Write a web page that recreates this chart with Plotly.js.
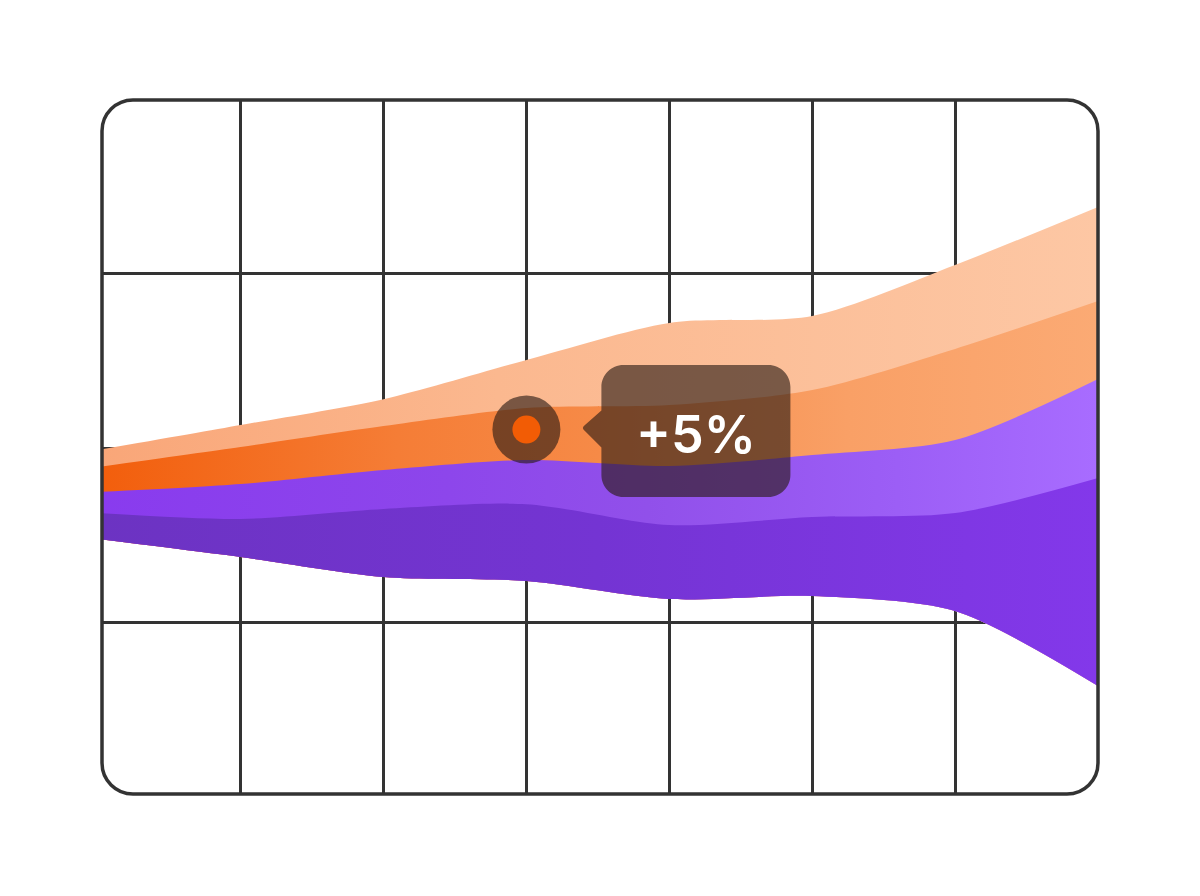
<!DOCTYPE html>
<html>
<head>
<meta charset="utf-8">
<script src="https://cdn.plot.ly/plotly-3.0.1.min.js"></script>
<style>
  html, body { margin: 0; padding: 0; background: #ffffff; }
  #chart { width: 1200px; height: 896px; }
</style>
</head>
<body>
<div id="chart"></div>
<script>
// ---- data ----
const periods    = [0, 1, 2, 3, 4, 5, 6, 7];
const baseline   = [14.79, 13.76, 12.62, 12.39, 11.36, 11.53, 10.67, 6.38];
const deepViolet = [16.28, 15.94, 16.51, 16.79, 15.59, 16.05, 16.28, 18.28];
const violet     = [17.48, 17.94, 18.74, 19.31, 18.97, 19.60, 20.46, 23.95];
const orange     = [18.91, 20.06, 21.26, 22.29, 22.46, 23.32, 25.67, 28.41];
const peach      = [19.89, 21.32, 22.80, 25.04, 27.16, 27.56, 30.48, 33.80];
const highlight  = { x: 3, y: 21.06, label: '+5%' };
const gridX = [1, 2, 3, 4, 5, 6];
const gridY = [10, 20, 30];

const lineStyle = { width: 0, shape: 'spline', smoothing: 0.8 };

function base() {
  return { x: periods, y: baseline, type: 'scatter', mode: 'lines',
           line: lineStyle, hoverinfo: 'skip', showlegend: false };
}
function band(top, scale) {
  return { x: periods, y: top, type: 'scatter', mode: 'lines', fill: 'tonexty',
           line: lineStyle, hoverinfo: 'skip', showlegend: false,
           fillgradient: { type: 'horizontal', colorscale: scale } };
}

const shadow = 'rgba(40,26,20,0.62)';

const traces = [
  base(),
  band(peach, [[0, '#f9a678'], [0.4, '#fbb88f'], [1, '#fdc7a4']]),
  base(),
  band(orange, [[0, '#f25e0c'], [0.3, '#f57d36'], [0.5, '#f68a47'], [0.75, '#f9a066'], [1, '#fbaa74']]),
  base(),
  band(violet, [[0, '#893bee'], [0.35, '#8d46eb'], [0.55, '#9150ea'], [0.8, '#9c5ef6'], [1, '#a86cff']]),
  base(),
  band(deepViolet, [[0, '#6c33c2'], [0.5, '#7434d3'], [1, '#8338ea']]),
  { x: [highlight.x], y: [highlight.y], type: 'scatter', mode: 'markers',
    marker: { size: 68, color: shadow, line: { width: 0 } }, hoverinfo: 'skip', showlegend: false },
  { x: [highlight.x], y: [highlight.y], type: 'scatter', mode: 'markers',
    marker: { size: 28, color: '#f25c05', line: { width: 0 } }, hoverinfo: 'skip', showlegend: false }
];

// rounded frame, in pixels relative to the plot's bottom-left corner
const W = 996, H = 694, R = 31, K = R * 0.5523;
const framePath =
  `M ${R},0 H ${W - R} C ${W - R + K},0 ${W},${R - K} ${W},${R} ` +
  `V ${H - R} C ${W},${H - R + K} ${W - R + K},${H} ${W - R},${H} ` +
  `H ${R} C ${R - K},${H} 0,${H - R + K} 0,${H - R} ` +
  `V ${R} C 0,${R - K} ${R - K},0 ${R},0 Z`;

// tooltip bubble, pixels relative to the highlighted point
const L = 75, Rt = 264, T = 64.5, B = -67.5, r = 22, k = r * 0.5523;
const tipPath =
  `M ${L + r},${T} H ${Rt - r} C ${Rt - r + k},${T} ${Rt},${T - r + k} ${Rt},${T - r} ` +
  `V ${B + r} C ${Rt},${B + r - k} ${Rt - r + k},${B} ${Rt - r},${B} ` +
  `H ${L + r} C ${L + r - k},${B} ${L},${B + r - k} ${L},${B + r} ` +
  `V -18 L 58,-1 Q 55,1.5 58,4 L ${L},19 ` +
  `V ${T - r} C ${L},${T - r + k} ${L + r - k},${T} ${L + r},${T} Z`;

const layout = {
  width: 1200, height: 896,
  margin: { l: 102, r: 102, t: 100, b: 102, pad: 0 },
  paper_bgcolor: '#ffffff', plot_bgcolor: '#ffffff',
  showlegend: false,
  xaxis: { range: [0.03, 7], tickvals: gridX, showticklabels: false, ticks: '',
           showgrid: true, gridcolor: '#333333', gridwidth: 3,
           zeroline: false, showline: false, fixedrange: true },
  yaxis: { range: [0.2, 39.92], tickvals: gridY, showticklabels: false, ticks: '',
           showgrid: true, gridcolor: '#333333', gridwidth: 3,
           zeroline: false, showline: false, fixedrange: true },
  shapes: [
    { type: 'path', xref: 'paper', yref: 'paper', xsizemode: 'pixel', ysizemode: 'pixel',
      xanchor: 0, yanchor: 0, path: framePath, layer: 'above',
      line: { color: '#333333', width: 3.5 }, fillcolor: 'rgba(0,0,0,0)' },
    { type: 'path', xref: 'x', yref: 'y', xsizemode: 'pixel', ysizemode: 'pixel',
      xanchor: highlight.x, yanchor: highlight.y, path: tipPath, layer: 'above',
      line: { width: 0 }, fillcolor: shadow }
  ],
  annotations: [
    { x: highlight.x, y: highlight.y, xref: 'x', yref: 'y', text: highlight.label,
      showarrow: false, xshift: 170, yshift: -5, xanchor: 'center', yanchor: 'middle',
      font: { family: 'Inter, "Open Sans", sans-serif', size: 52, color: '#ffffff', weight: 600 } }
  ]
};

Plotly.newPlot('chart', traces, layout, { staticPlot: true, displayModeBar: false });
</script>
</body>
</html>
